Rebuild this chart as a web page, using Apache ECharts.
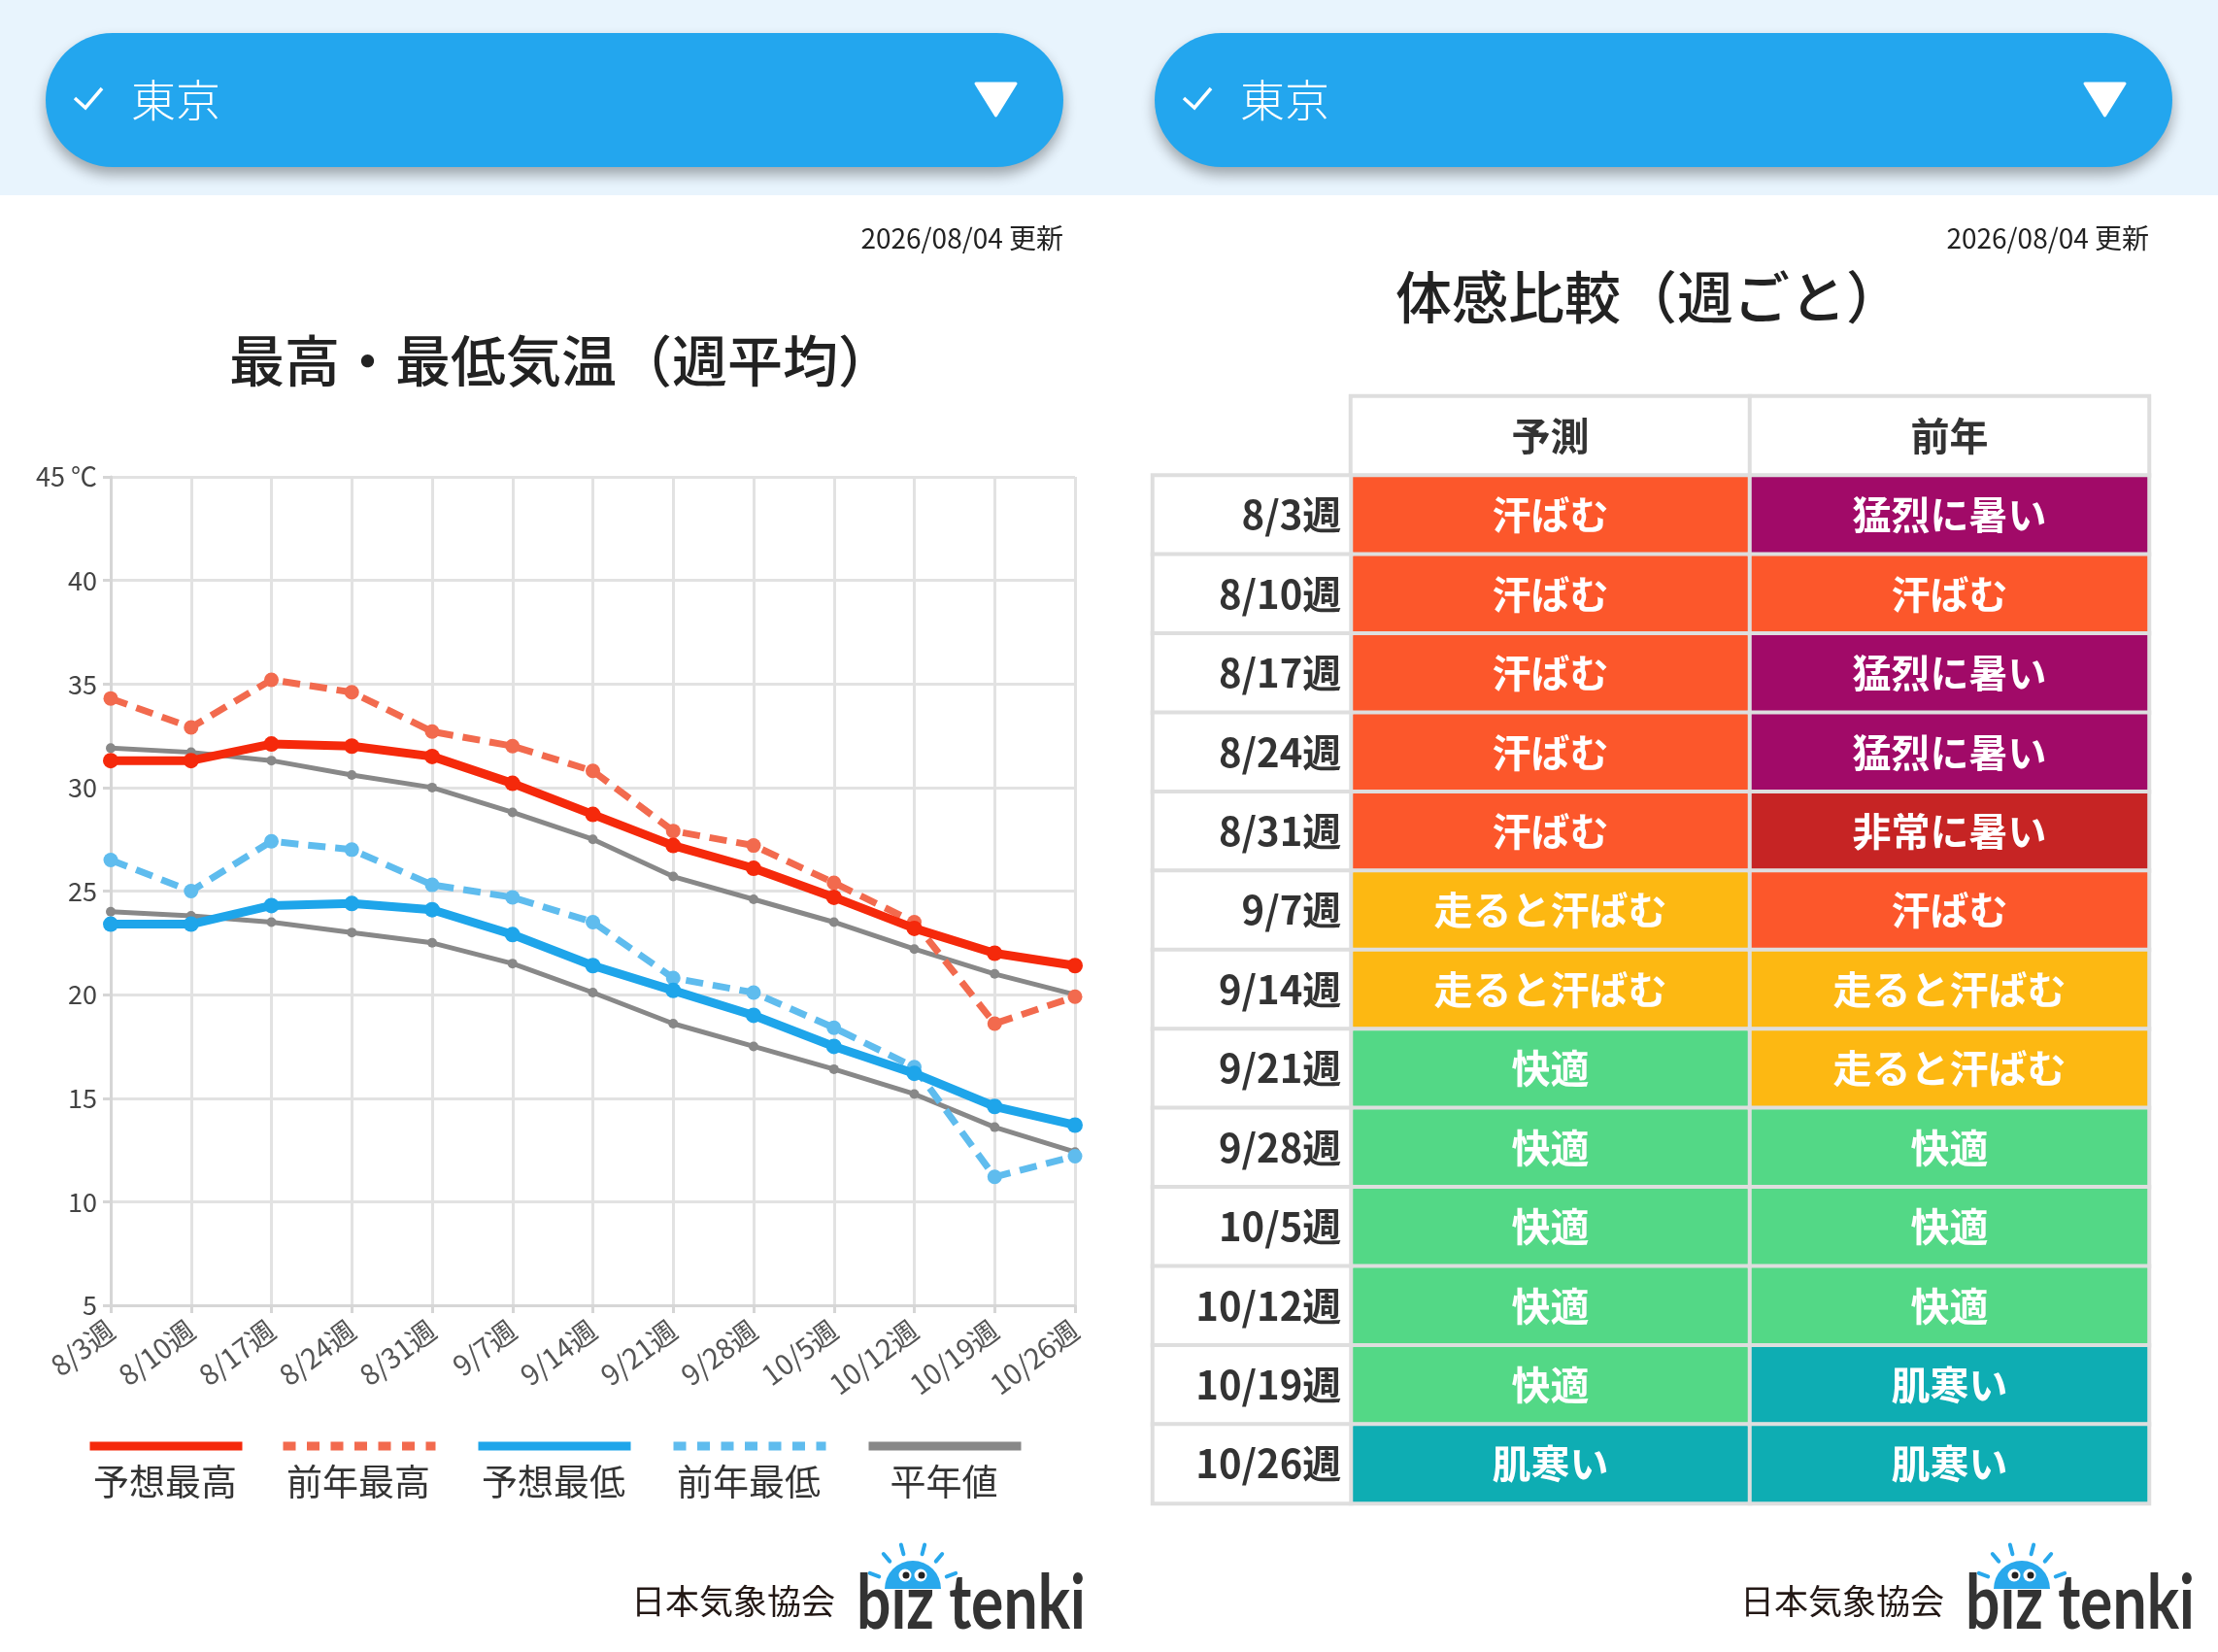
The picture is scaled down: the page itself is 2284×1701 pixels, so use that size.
<!DOCTYPE html>
<html>
<head>
<meta charset="utf-8">
<script src="https://cdn.jsdelivr.net/npm/echarts@6/dist/echarts.min.js"></script>
<style>
  html, body { margin: 0; padding: 0; background: #fff; }
  #main { width: 2284px; height: 1701px; }
</style>
</head>
<body>
<div id="main"></div>
<script>
// weekly categories
const weeks = ['8/3週', '8/10週', '8/17週', '8/24週', '8/31週', '9/7週', '9/14週',
  '9/21週', '9/28週', '10/5週', '10/12週', '10/19週', '10/26週'];

// temperatures (℃)
const fcstHigh = [31.3, 31.3, 32.1, 32.0, 31.5, 30.2, 28.7, 27.2, 26.1, 24.7, 23.2, 22.0, 21.4];
const prevHigh = [34.3, 32.9, 35.2, 34.6, 32.7, 32.0, 30.8, 27.9, 27.2, 25.4, 23.5, 18.6, 19.9];
const fcstLow = [23.4, 23.4, 24.3, 24.4, 24.1, 22.9, 21.4, 20.2, 19.0, 17.5, 16.2, 14.6, 13.7];
const prevLow = [26.5, 25.0, 27.4, 27.0, 25.3, 24.7, 23.5, 20.8, 20.1, 18.4, 16.5, 11.2, 12.2];
const normHigh = [31.9, 31.7, 31.3, 30.6, 30.0, 28.8, 27.5, 25.7, 24.6, 23.5, 22.2, 21.0, 20.0];
const normLow = [24.0, 23.8, 23.5, 23.0, 22.5, 21.5, 20.1, 18.6, 17.5, 16.4, 15.2, 13.6, 12.4];

// feel table
const tableHeaders = ['予測', '前年'];
const feelLevels = ['猛烈に暑い', '非常に暑い', '汗ばむ', '走ると汗ばむ', '快適', '肌寒い'];
const feelForecast = ['汗ばむ', '汗ばむ', '汗ばむ', '汗ばむ', '汗ばむ', '走ると汗ばむ', '走ると汗ばむ',
  '快適', '快適', '快適', '快適', '快適', '肌寒い'];
const feelLastYear = ['猛烈に暑い', '汗ばむ', '猛烈に暑い', '猛烈に暑い', '非常に暑い', '汗ばむ', '走ると汗ばむ',
  '走ると汗ばむ', '快適', '快適', '快適', '肌寒い', '肌寒い'];

const updated = '2026/08/04 更新';
const place = '東京';

const FONT = '"Noto Sans CJK JP", "Noto Sans", sans-serif';
const feelColors = ['#a10a68', '#c62424', '#fc572b', '#fdb812', '#53d886', '#0eadb3'];

const chart = echarts.init(document.getElementById('main'), null, { renderer: 'canvas' });

// table rows: row 0 is the header; heatmap needs a numeric value, text kept alongside
const rowCats = [''].concat(weeks);
const tableData = [];
const tableText = [];
tableHeaders.forEach((h, x) => {
  tableData.push({ value: [x, 0, -1], itemStyle: { color: '#fff' }, label: { color: '#333' } });
  tableText.push(h);
});
[feelForecast, feelLastYear].forEach((col, x) => {
  col.forEach((v, i) => {
    const k = feelLevels.indexOf(v);
    tableData.push({ value: [x, i + 1, k], itemStyle: { color: feelColors[k] } });
    tableText.push(v);
  });
});
const weekCellData = weeks.map((w, i) => ({ value: [0, i + 1, i] }));

// header pills, logos etc.
function pill(dx) {
  return [
    { type: 'rect', shape: { x: 47 + dx, y: 34, width: 1048, height: 138, r: 69 },
      style: { fill: '#23a6ee', shadowBlur: 14, shadowOffsetY: 8, shadowColor: 'rgba(0,0,0,0.32)' } },
    { type: 'polyline', shape: { points: [[77 + dx, 101], [88 + dx, 111], [105 + dx, 91]] },
      style: { stroke: '#fff', lineWidth: 3.5, fill: null } },
    { type: 'text', x: 135 + dx, y: 103,
      style: { text: place, fill: '#fff', fontSize: 46, fontWeight: 300, fontFamily: FONT,
        verticalAlign: 'middle' } },
    { type: 'polygon', shape: { points: [[1005 + dx, 86], [1046 + dx, 86], [1025.5 + dx, 119]] },
      style: { fill: '#fff', stroke: '#fff', lineWidth: 3, lineJoin: 'round' } }
  ];
}

function logo(dx) {
  const cx = 940 + dx, cy = 1636;
  const els = [
    { type: 'text', x: 650 + dx, y: 1649,
      style: { text: '日本気象協会', fill: '#231815', fontSize: 35, fontFamily: FONT, verticalAlign: 'middle' } },
    { type: 'text', x: 882 + dx, y: 1652, scaleX: 0.8, originX: 0, originY: 0,
      style: { text: 'bız tenki', fill: '#333', fontSize: 78, fontWeight: 'bold', fontFamily: 'Lato, sans-serif',
        verticalAlign: 'middle' } },
    { type: 'sector', shape: { cx: cx, cy: cy, r: 29, r0: 0, startAngle: Math.PI, endAngle: Math.PI * 2 },
      style: { fill: '#29a8ec' } },
    { type: 'circle', shape: { cx: cx - 8, cy: cy - 14, r: 6.5 }, style: { fill: '#fff' } },
    { type: 'circle', shape: { cx: cx + 8, cy: cy - 14, r: 6.5 }, style: { fill: '#fff' } },
    { type: 'circle', shape: { cx: cx - 7, cy: cy - 14, r: 3.5 }, style: { fill: '#222' } },
    { type: 'circle', shape: { cx: cx + 9, cy: cy - 14, r: 3.5 }, style: { fill: '#222' } }
  ];
  [-160, -130, -105, -75, -50, -20].forEach(a => {
    const t = a * Math.PI / 180;
    els.push({ type: 'line',
      shape: { x1: cx + Math.cos(t) * 37, y1: cy + Math.sin(t) * 37, x2: cx + Math.cos(t) * 47, y2: cy + Math.sin(t) * 47 },
      style: { stroke: '#29a8ec', lineWidth: 4, lineCap: 'round' } });
  });
  return els;
}

const legendItems = [
  { name: '予想最高', left: 88, type: 'solid' },
  { name: '前年最高', left: 287, type: [13, 11.5] },
  { name: '予想最低', left: 488, type: 'solid' },
  { name: '前年最低', left: 689, type: [13, 11.5] },
  { name: '平年値', left: 890, type: 'solid' }
];

const graphics = [
  { type: 'rect', shape: { x: 0, y: 0, width: 2284, height: 201 }, style: { fill: '#e8f4fd' }, z: -1 }
].concat(pill(0), pill(1142), logo(0), logo(1142), [
  { type: 'text', x: 1095, y: 245,
    style: { text: updated, fill: '#222', fontSize: 28, fontFamily: FONT, align: 'right', verticalAlign: 'middle' } },
  { type: 'text', x: 2213, y: 245,
    style: { text: updated, fill: '#222', fontSize: 28, fontFamily: FONT, align: 'right', verticalAlign: 'middle' } },
  { type: 'text', x: 578, y: 371,
    style: { text: '最高・最低気温（週平均）', fill: '#222', fontSize: 57, fontWeight: 500, fontFamily: FONT,
      align: 'center', verticalAlign: 'middle' } },
  { type: 'text', x: 1698, y: 306,
    style: { text: '体感比較（週ごと）', fill: '#222', fontSize: 58, fontWeight: 500, fontFamily: FONT,
      align: 'center', verticalAlign: 'middle' } }
], legendItems.map(l => ({ type: 'text', x: l.left + 82, y: 1526,
  style: { text: l.name, fill: '#333', fontSize: 37, fontFamily: FONT, align: 'center', verticalAlign: 'middle' } })));

const option = {
  animation: false,
  backgroundColor: '#fff',
  textStyle: { fontFamily: FONT },
  graphic: graphics,
  legend: legendItems.map(l => ({
    data: [l.name], left: l.left, top: 1484, padding: 0, itemWidth: 157, itemHeight: 10,
    selectedMode: false, formatter: () => '',
    lineStyle: { width: 9, type: l.type },
    itemStyle: { opacity: 0 }
  })),
  grid: [
    { left: 114, top: 491, width: 993, height: 853 },
    { left: 1391, top: 408, width: 822, height: 1140 },
    { left: 1187, top: 408, width: 204, height: 1140 }
  ],
  xAxis: [
    {
      gridIndex: 0, type: 'category', data: weeks, boundaryGap: false,
      axisLine: { lineStyle: { color: '#d6d6d6', width: 3 } },
      axisTick: { show: true, length: 8, lineStyle: { color: '#d6d6d6', width: 3 } },
      axisLabel: { rotate: 37, fontSize: 29, color: '#555', margin: 22 },
      splitLine: { show: true, lineStyle: { color: '#e2e2e2', width: 3 } }
    },
    { gridIndex: 1, type: 'category', data: tableHeaders, show: false },
    { gridIndex: 2, type: 'category', data: ['週'], show: false }
  ],
  yAxis: [
    {
      gridIndex: 0, type: 'value', min: 5, max: 45, interval: 5,
      axisLine: { show: true, lineStyle: { color: '#d6d6d6', width: 3 } },
      axisTick: { show: true, length: 8, lineStyle: { color: '#d6d6d6', width: 3 } },
      axisLabel: { fontSize: 27, color: '#444', margin: 14,
        formatter: v => v === 45 ? '45 ℃' : String(v) },
      splitLine: { lineStyle: { color: '#e2e2e2', width: 3 } }
    },
    { gridIndex: 1, type: 'category', data: rowCats, inverse: true, show: false },
    { gridIndex: 2, type: 'category', data: rowCats, inverse: true, show: false }
  ],
  series: [
    { name: '平年値', type: 'line', data: normHigh, symbol: 'circle', symbolSize: 10,
      lineStyle: { color: '#888', width: 5 }, itemStyle: { color: '#888' }, z: 2 },
    { name: '平年値', type: 'line', data: normLow, symbol: 'circle', symbolSize: 10,
      lineStyle: { color: '#888', width: 5 }, itemStyle: { color: '#888' }, z: 2 },
    { name: '前年最高', type: 'line', data: prevHigh, symbol: 'circle', symbolSize: 15,
      lineStyle: { color: '#f26a4e', width: 7, type: [18, 10] }, itemStyle: { color: '#f26a4e' }, z: 3 },
    { name: '前年最低', type: 'line', data: prevLow, symbol: 'circle', symbolSize: 15,
      lineStyle: { color: '#5fbcee', width: 7, type: [18, 10] }, itemStyle: { color: '#5fbcee' }, z: 3 },
    { name: '予想最高', type: 'line', data: fcstHigh, symbol: 'circle', symbolSize: 16,
      lineStyle: { color: '#f5290b', width: 9 }, itemStyle: { color: '#f5290b' }, z: 4 },
    { name: '予想最低', type: 'line', data: fcstLow, symbol: 'circle', symbolSize: 16,
      lineStyle: { color: '#1ea5ea', width: 9 }, itemStyle: { color: '#1ea5ea' }, z: 4 },
    {
      type: 'heatmap', xAxisIndex: 1, yAxisIndex: 1, data: tableData,
      itemStyle: { borderColor: '#dedede', borderWidth: 4 },
      label: { show: true, color: '#fff', fontSize: 40, fontWeight: 'bold', fontFamily: FONT,
        formatter: p => tableText[p.dataIndex] },
      emphasis: { disabled: true }
    },
    {
      type: 'heatmap', xAxisIndex: 2, yAxisIndex: 2, data: weekCellData,
      itemStyle: { color: '#fff', borderColor: '#dedede', borderWidth: 4 },
      label: { show: true, position: 'insideRight', distance: 12, color: '#333', fontSize: 40,
        fontWeight: 'bold', fontFamily: FONT, formatter: p => weeks[p.dataIndex] },
      emphasis: { disabled: true }
    }
  ]
};

chart.setOption(option);
</script>
</body>
</html>
